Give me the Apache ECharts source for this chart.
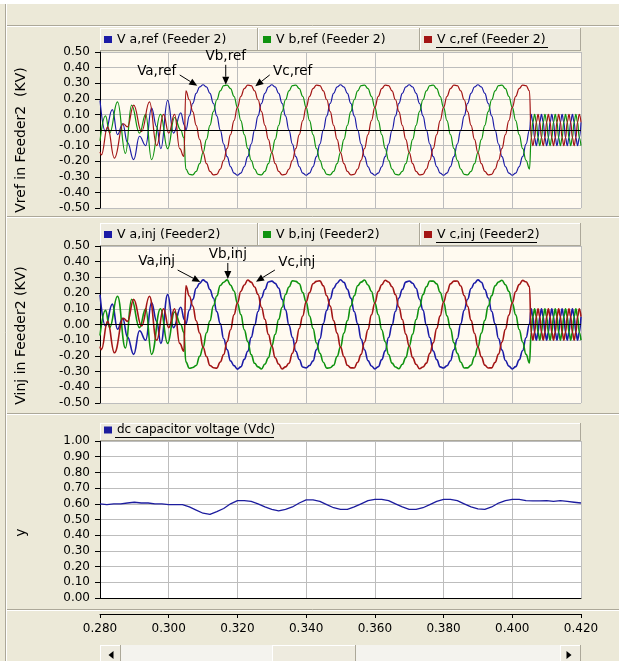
<!DOCTYPE html>
<html><head><meta charset="utf-8">
<script src="https://cdn.jsdelivr.net/npm/echarts@6/dist/echarts.min.js"></script>
<style>html,body{margin:0;padding:0;background:#ECE9D8;}#c{width:619px;height:661px;}</style>
</head><body><div id="c"></div>
<script>
// ---------- axis settings ----------
const xMin = 0.28, xMax = 0.42, xStep = 0.02;
const xTickLabels = ['0.280','0.300','0.320','0.340','0.360','0.380','0.400','0.420'];
const seriesNames = {
  refA: 'V a,ref (Feeder 2)', refB: 'V b,ref (Feeder 2)', refC: 'V c,ref (Feeder 2)',
  injA: 'V a,inj (Feeder2)', injB: 'V b,inj (Feeder2)', injC: 'V c,inj (Feeder2)',
  vdc: 'dc capacitor voltage (Vdc)'
};

// ---------- start segment (distorted), key points ----------
const startTimeA = [0.2800,0.2816,0.2836,0.2851,0.2866,0.2880,0.2898,0.2915,0.2933,0.2950,0.2965,0.2977,0.2997,0.3014,0.3035,0.3046];
const startA     = [0.19,-0.01,0.13,-0.03,0.04,-0.08,-0.19,-0.04,-0.10,0.14,0.02,-0.12,0.19,-0.02,0.11,0.03];
const startTimeB = [0.2800,0.2816,0.2828,0.2851,0.2874,0.2892,0.2915,0.2933,0.2950,0.2976,0.2997,0.3017,0.3035,0.3044];
const startB     = [-0.07,0.09,-0.02,0.18,-0.15,0.16,-0.02,0.10,-0.19,0.10,-0.12,0.08,0.00,-0.05];
const startTimeC = [0.2800,0.2804,0.2822,0.2842,0.2868,0.2880,0.2898,0.2921,0.2944,0.2965,0.2985,0.3000,0.3017,0.3032,0.3044];
const startC     = [-0.14,-0.16,0.02,-0.18,0.04,0.02,0.16,-0.01,0.18,-0.10,0.10,-0.02,0.10,-0.12,-0.17];

// ---------- main segment, sampled every 1 ms from 0.305 s ----------
const mainStart = 0.305, mainStep = 0.001;
const refA = [
 0,0.090,0.171,0.235,0.276,0.290,0.276,0.235,0.171,0.090,0,-0.090,-0.171,-0.235,-0.276,-0.290,-0.276,-0.235,-0.171,-0.090,
 0,0.090,0.171,0.235,0.276,0.290,0.276,0.235,0.171,0.090,0,-0.090,-0.171,-0.235,-0.276,-0.290,-0.276,-0.235,-0.171,-0.090,
 0,0.090,0.171,0.235,0.276,0.290,0.276,0.235,0.171,0.090,0,-0.090,-0.171,-0.235,-0.276,-0.290,-0.276,-0.235,-0.171,-0.090,
 0,0.090,0.171,0.235,0.276,0.290,0.276,0.235,0.171,0.090,0,-0.090,-0.171,-0.235,-0.276,-0.290,-0.276,-0.235,-0.171,-0.090,
 0,0.090,0.171,0.235,0.276,0.290,0.276,0.235,0.171,0.090,0,-0.090,-0.171,-0.235,-0.276,-0.290,-0.276,-0.235,-0.171,-0.090,
 0];
const refB = [
 -0.251,-0.284,-0.288,-0.265,-0.216,-0.145,-0.060,0.030,0.118,0.194,0.251,0.284,0.288,0.265,0.216,0.145,0.060,-0.030,-0.118,-0.194,
 -0.251,-0.284,-0.288,-0.265,-0.216,-0.145,-0.060,0.030,0.118,0.194,0.251,0.284,0.288,0.265,0.216,0.145,0.060,-0.030,-0.118,-0.194,
 -0.251,-0.284,-0.288,-0.265,-0.216,-0.145,-0.060,0.030,0.118,0.194,0.251,0.284,0.288,0.265,0.216,0.145,0.060,-0.030,-0.118,-0.194,
 -0.251,-0.284,-0.288,-0.265,-0.216,-0.145,-0.060,0.030,0.118,0.194,0.251,0.284,0.288,0.265,0.216,0.145,0.060,-0.030,-0.118,-0.194,
 -0.251,-0.284,-0.288,-0.265,-0.216,-0.145,-0.060,0.030,0.118,0.194,0.251,0.284,0.288,0.265,0.216,0.145,0.060,-0.030,-0.118,-0.194,
 -0.251];
const refC = [
 0.251,0.194,0.118,0.030,-0.060,-0.145,-0.216,-0.265,-0.288,-0.284,-0.251,-0.194,-0.118,-0.030,0.060,0.145,0.216,0.265,0.288,0.284,
 0.251,0.194,0.118,0.030,-0.060,-0.145,-0.216,-0.265,-0.288,-0.284,-0.251,-0.194,-0.118,-0.030,0.060,0.145,0.216,0.265,0.288,0.284,
 0.251,0.194,0.118,0.030,-0.060,-0.145,-0.216,-0.265,-0.288,-0.284,-0.251,-0.194,-0.118,-0.030,0.060,0.145,0.216,0.265,0.288,0.284,
 0.251,0.194,0.118,0.030,-0.060,-0.145,-0.216,-0.265,-0.288,-0.284,-0.251,-0.194,-0.118,-0.030,0.060,0.145,0.216,0.265,0.288,0.284,
 0.251,0.194,0.118,0.030,-0.060,-0.145,-0.216,-0.265,-0.288,-0.284,-0.251,-0.194,-0.118,-0.030,0.060,0.145,0.216,0.265,0.288,0.284,
 0.251];
const injA = [
 0.004,0.092,0.160,0.231,0.262,0.284,0.270,0.222,0.169,0.082,0.006,-0.091,-0.160,-0.232,-0.262,-0.284,-0.270,-0.222,-0.170,-0.082,
 -0.005,0.083,0.170,0.223,0.271,0.276,0.262,0.232,0.160,0.093,-0.004,-0.082,-0.170,-0.223,-0.271,-0.276,-0.261,-0.232,-0.160,-0.092,
 0.006,0.090,0.162,0.230,0.263,0.285,0.268,0.224,0.168,0.083,0.005,-0.092,-0.161,-0.230,-0.264,-0.283,-0.269,-0.224,-0.168,-0.083,
 -0.004,0.084,0.169,0.224,0.270,0.277,0.263,0.231,0.161,0.092,-0.005,-0.083,-0.169,-0.224,-0.270,-0.277,-0.263,-0.231,-0.161,-0.091,
 0.005,0.091,0.161,0.229,0.264,0.284,0.269,0.223,0.169,0.084,0.004,-0.090,-0.162,-0.229,-0.265,-0.283,-0.268,-0.225,-0.167,-0.084,
 0.003];
const injB = [
 -0.238,-0.279,-0.274,-0.261,-0.203,-0.145,-0.053,0.024,0.119,0.182,0.248,0.269,0.284,0.251,0.213,0.135,0.063,-0.034,-0.109,-0.192,
 -0.247,-0.270,-0.283,-0.252,-0.212,-0.136,-0.062,0.033,0.110,0.191,0.239,0.278,0.275,0.260,0.204,0.144,0.054,-0.025,-0.118,-0.183,
 -0.240,-0.278,-0.275,-0.260,-0.204,-0.144,-0.054,0.025,0.118,0.183,0.247,0.270,0.283,0.252,0.212,0.136,0.062,-0.033,-0.110,-0.191,
 -0.246,-0.271,-0.282,-0.253,-0.211,-0.137,-0.061,0.032,0.111,0.190,0.240,0.277,0.276,0.259,0.205,0.143,0.055,-0.026,-0.117,-0.184,
 -0.239,-0.277,-0.276,-0.259,-0.205,-0.143,-0.055,0.026,0.117,0.184,0.246,0.271,0.282,0.253,0.211,0.137,0.061,-0.032,-0.111,-0.190,
 -0.245];
const injC = [
 0.247,0.182,0.118,0.024,-0.054,-0.145,-0.204,-0.261,-0.275,-0.278,-0.239,-0.191,-0.110,-0.033,0.062,0.136,0.212,0.252,0.283,0.270,
 0.239,0.191,0.110,0.033,-0.062,-0.136,-0.212,-0.252,-0.283,-0.270,-0.247,-0.183,-0.118,-0.025,0.054,0.144,0.204,0.260,0.275,0.278,
 0.246,0.183,0.117,0.025,-0.055,-0.144,-0.205,-0.260,-0.276,-0.277,-0.240,-0.190,-0.111,-0.032,0.061,0.137,0.211,0.253,0.282,0.271,
 0.240,0.190,0.111,0.032,-0.061,-0.137,-0.211,-0.253,-0.282,-0.271,-0.246,-0.184,-0.117,-0.026,0.055,0.143,0.205,0.259,0.276,0.277,
 0.245,0.184,0.116,0.026,-0.056,-0.143,-0.206,-0.259,-0.277,-0.276,-0.241,-0.189,-0.112,-0.031,0.060,0.138,0.210,0.254,0.281,0.272,
 0.242];

// ---------- end segment (high-frequency), sampled every 0.5 ms from 0.4055 s ----------
const endStart = 0.4055, endStep = 0.0005;
const endA = [0.100,0.050,-0.050,-0.100,-0.050,0.050, 0.100,0.050,-0.050,-0.100,-0.050,0.050,
 0.100,0.050,-0.050,-0.100,-0.050,0.050, 0.100,0.050,-0.050,-0.100,-0.050,0.050, 0.100,0.050,-0.050,-0.100,-0.050,0.050];
const endB = [-0.050,0.050,0.100,0.050,-0.050,-0.100, -0.050,0.050,0.100,0.050,-0.050,-0.100,
 -0.050,0.050,0.100,0.050,-0.050,-0.100, -0.050,0.050,0.100,0.050,-0.050,-0.100, -0.050,0.050,0.100,0.050,-0.050,-0.100];
const endC = [-0.050,-0.100,-0.050,0.050,0.100,0.050, -0.050,-0.100,-0.050,0.050,0.100,0.050,
 -0.050,-0.100,-0.050,0.050,0.100,0.050, -0.050,-0.100,-0.050,0.050,0.100,0.050, -0.050,-0.100,-0.050,0.050,0.100,0.050];

// ---------- dc capacitor voltage, every 2 ms from 0.280 s ----------
const vdcStart = 0.28, vdcStep = 0.002;
const vdc = [0.600,0.595,0.600,0.600,0.605,0.610,0.605,0.605,0.600,0.600,
 0.595,0.595,0.595,0.580,0.560,0.540,0.532,0.550,0.570,0.600,
 0.620,0.620,0.615,0.600,0.580,0.565,0.555,0.565,0.580,0.605,
 0.625,0.625,0.615,0.595,0.575,0.565,0.565,0.580,0.600,0.620,
 0.628,0.628,0.620,0.600,0.580,0.565,0.565,0.575,0.595,0.615,
 0.628,0.628,0.620,0.600,0.580,0.568,0.565,0.580,0.605,0.620,
 0.628,0.628,0.620,0.618,0.618,0.620,0.615,0.620,0.615,0.610,0.605];

// ---------- build ----------
const FONT = '"DejaVu Sans", Verdana, sans-serif';
const BLUE = '#1b1ba6', GREEN = '#0f930f', RED = '#a31515', NAVY = '#1c1c9e';

function keyPts(ts, vs) { return ts.map((t, i) => [t, vs[i]]); }
function sampled(t0, dt, vs) { return vs.map((v, i) => [+(t0 + i * dt).toFixed(5), v]); }
function phase(ts, sv, mv, ev) {
  return keyPts(ts, sv).concat(sampled(mainStart, mainStep, mv), sampled(endStart, endStep, ev));
}

const zeroLine = {silent: true, symbol: ['none','none'], label: {show: false},
  lineStyle: {color: '#000', width: 1, type: 'solid'}, emphasis: {disabled: true}, data: [{yAxis: 0}]};

function lineSeries(name, data, color, xi, width, mark) {
  const s = {name, type: 'line', xAxisIndex: xi, yAxisIndex: xi, data, symbol: 'none', showSymbol: false,
    smooth: 0.45, smoothMonotone: 'x', lineStyle: {color, width}, itemStyle: {color}, emphasis: {disabled: true}, z: 3};
  if (mark) s.markLine = zeroLine;
  return s;
}

const fmt2 = v => (Math.abs(v) < 1e-9 ? 0 : v).toFixed(2);
const gridLine = {show: true, lineStyle: {color: '#BDBDBD', width: 1}};

function xAx(g) {
  return {type: 'value', gridIndex: g, min: xMin, max: xMax, interval: xStep,
    axisLine: {show: false}, axisTick: {show: false}, axisLabel: {show: false}, splitLine: gridLine};
}
function yAx(g, min, max, name, pad) {
  return {type: 'value', gridIndex: g, min, max, interval: 0.1,
    axisLine: {show: true, onZero: false, lineStyle: {color: '#000', width: 1}},
    axisTick: {show: true, length: 5, lineStyle: {color: '#000'}},
    axisLabel: {formatter: fmt2, margin: 10, fontFamily: FONT, fontSize: 12, color: '#000'},
    splitLine: gridLine,
    name, nameLocation: 'middle', nameRotate: 90, nameGap: 72,
    nameTextStyle: {fontFamily: FONT, fontSize: 14, color: '#000', padding: [0, pad, 0, 0]}};
}
function legendItem(name, left, top, size) {
  return {data: [name], left, top, padding: 0, itemWidth: 8, itemHeight: 7, icon: 'rect',
    selectedMode: false, z: 6, textStyle: {fontFamily: FONT, fontSize: size || 12.5, color: '#000'}};
}

const xAxes = [xAx(0), xAx(1), xAx(2), {
  type: 'value', gridIndex: 2, min: xMin, max: xMax, interval: xStep, position: 'bottom', offset: 16,
  axisLine: {show: true, onZero: false, lineStyle: {color: '#000'}},
  axisTick: {show: true, length: 4, lineStyle: {color: '#000'}},
  axisLabel: {fontFamily: FONT, fontSize: 12, color: '#000', margin: 9,
    formatter: v => xTickLabels[Math.round((v - xMin) / xStep)]},
  splitLine: {show: false}}];
xAxes[2].axisLine = {show: true, onZero: false, lineStyle: {color: '#000'}};

const option = {
  animation: false,
  backgroundColor: '#ECE9D8',
  grid: [
    {left: 100, top: 52, width: 481, height: 156, show: true, backgroundColor: '#FFFAF0', borderWidth: 0},
    {left: 100, top: 246, width: 481, height: 157, show: true, backgroundColor: '#FFFAF0', borderWidth: 0},
    {left: 100, top: 441, width: 481, height: 157, show: true, backgroundColor: '#FFFFFF', borderWidth: 0}
  ],
  xAxis: xAxes,
  yAxis: [
    yAx(0, -0.5, 0.5, 'Vref in Feeder2  (KV)', 20),
    yAx(1, -0.5, 0.5, 'Vinj in Feeder2 (KV)', 22),
    yAx(2, 0, 1, 'y', 26)
  ],
  legend: [
    legendItem(seriesNames.refA, 104, 33), legendItem(seriesNames.refB, 263, 33), legendItem(seriesNames.refC, 424, 33),
    legendItem(seriesNames.injA, 104, 228), legendItem(seriesNames.injB, 263, 228), legendItem(seriesNames.injC, 424, 228),
    legendItem(seriesNames.vdc, 104, 424, 12)
  ],
  series: [
    lineSeries(seriesNames.refA, phase(startTimeA, startA, refA, endA), BLUE, 0, 1.2, true),
    lineSeries(seriesNames.refB, phase(startTimeB, startB, refB, endB), GREEN, 0, 1.2, false),
    lineSeries(seriesNames.refC, phase(startTimeC, startC, refC, endC), RED, 0, 1.2, false),
    lineSeries(seriesNames.injA, phase(startTimeA, startA, injA, endA), BLUE, 1, 1.6, true),
    lineSeries(seriesNames.injB, phase(startTimeB, startB, injB, endB), GREEN, 1, 1.6, false),
    lineSeries(seriesNames.injC, phase(startTimeC, startC, injC, endC), RED, 1, 1.6, false),
    lineSeries(seriesNames.vdc, sampled(vdcStart, vdcStep, vdc), NAVY, 2, 1.3, false)
  ]
};
option.series[6].smooth = false;

const chart = echarts.init(document.getElementById('c'), null, {renderer: 'canvas'});
chart.setOption(option);

// ---------- decorations (window chrome, legend buttons, annotations) ----------
const gfx = [];
function hline(x1, x2, y, c) { gfx.push({type: 'line', z: 1, silent: true, shape: {x1, y1: y, x2, y2: y}, style: {stroke: c, lineWidth: 1}}); }
function vline(x, y1, y2, c) { gfx.push({type: 'line', z: 1, silent: true, shape: {x1: x, y1, x2: x, y2}, style: {stroke: c, lineWidth: 1}}); }
function button(x, y, w, h, fill) {
  gfx.push({type: 'rect', z: 1, silent: true, shape: {x, y, width: w, height: h}, style: {fill: fill || '#EEEBDF'}});
  hline(x, x + w, y + 0.5, '#FFFFFF'); vline(x + 0.5, y, y + h, '#FFFFFF');
  hline(x, x + w, y + h - 0.5, '#ACA899'); vline(x + w - 0.5, y, y + h, '#ACA899');
}
gfx.push({type: 'rect', z: 1, silent: true, shape: {x: 0, y: 0, width: 619, height: 4}, style: {fill: '#FFFFFF'}});
[25.5, 216.5, 413.5, 609.5].forEach(y => { hline(6, 619, y, '#ACA899'); hline(6, 619, y + 1, '#FFFFFF'); });
vline(5.5, 4, 661, '#ACA899'); vline(6.5, 4, 661, '#FFFFFF');
button(100, 28, 158, 23); button(258, 28, 162, 23); button(420, 28, 161, 23);
button(100, 223, 158, 23); button(258, 223, 162, 23); button(420, 223, 161, 23);
button(100, 423, 481, 18);
hline(436, 548, 47.5, '#000'); hline(436, 537, 242.5, '#000'); hline(115, 274, 437.5, '#000');
gfx.push({type: 'rect', z: 1, silent: true, shape: {x: 121, y: 645, width: 439, height: 16}, style: {fill: '#F4F3EE'}});
button(100, 645, 21, 17); button(272, 645, 84, 17); button(560, 645, 21, 17);
gfx.push({type: 'polygon', z: 2, silent: true, shape: {points: [[108.5, 655], [113.5, 651], [113.5, 659]]}, style: {fill: '#000'}});
gfx.push({type: 'polygon', z: 2, silent: true, shape: {points: [[571.5, 655], [566.5, 651], [566.5, 659]]}, style: {fill: '#000'}});

const callouts = [
  {g: 0, label: 'Va,ref', at: [0.2965, 0.372], from: [0.3032, 0.353], to: [0.3083, 0.283]},
  {g: 0, label: 'Vb,ref', at: [0.3166, 0.468], from: [0.3166, 0.418], to: [0.3166, 0.290]},
  {g: 0, label: 'Vc,ref', at: [0.3361, 0.378], from: [0.3294, 0.353], to: [0.3252, 0.280]},
  {g: 1, label: 'Va,inj', at: [0.2965, 0.404], from: [0.3026, 0.347], to: [0.3092, 0.271]},
  {g: 1, label: 'Vb,inj', at: [0.3172, 0.443], from: [0.3172, 0.392], to: [0.3172, 0.290]},
  {g: 1, label: 'Vc,inj', at: [0.3373, 0.398], from: [0.3309, 0.347], to: [0.3254, 0.273]}
];
callouts.forEach(c => {
  const p = chart.convertToPixel({gridIndex: c.g}, c.at);
  const a = chart.convertToPixel({gridIndex: c.g}, c.from);
  const b = chart.convertToPixel({gridIndex: c.g}, c.to);
  const dx = b[0] - a[0], dy = b[1] - a[1], L = Math.hypot(dx, dy), ux = dx / L, uy = dy / L;
  const hl = 8, hw = 3.5, bx = b[0] - ux * hl, by = b[1] - uy * hl;
  gfx.push({type: 'text', z: 10, silent: true, style: {text: c.label, x: p[0], y: p[1],
    align: 'center', verticalAlign: 'middle', textAlign: 'center', textVerticalAlign: 'middle',
    font: '13.5px "DejaVu Sans"', fill: '#000'}});
  gfx.push({type: 'line', z: 10, silent: true, shape: {x1: a[0], y1: a[1], x2: bx, y2: by}, style: {stroke: '#000', lineWidth: 1}});
  gfx.push({type: 'polygon', z: 10, silent: true, shape: {points: [[b[0], b[1]], [bx - uy * hw, by + ux * hw], [bx + uy * hw, by - ux * hw]]}, style: {fill: '#000'}});
});
chart.setOption({graphic: {elements: gfx}});
</script>
</body></html>
